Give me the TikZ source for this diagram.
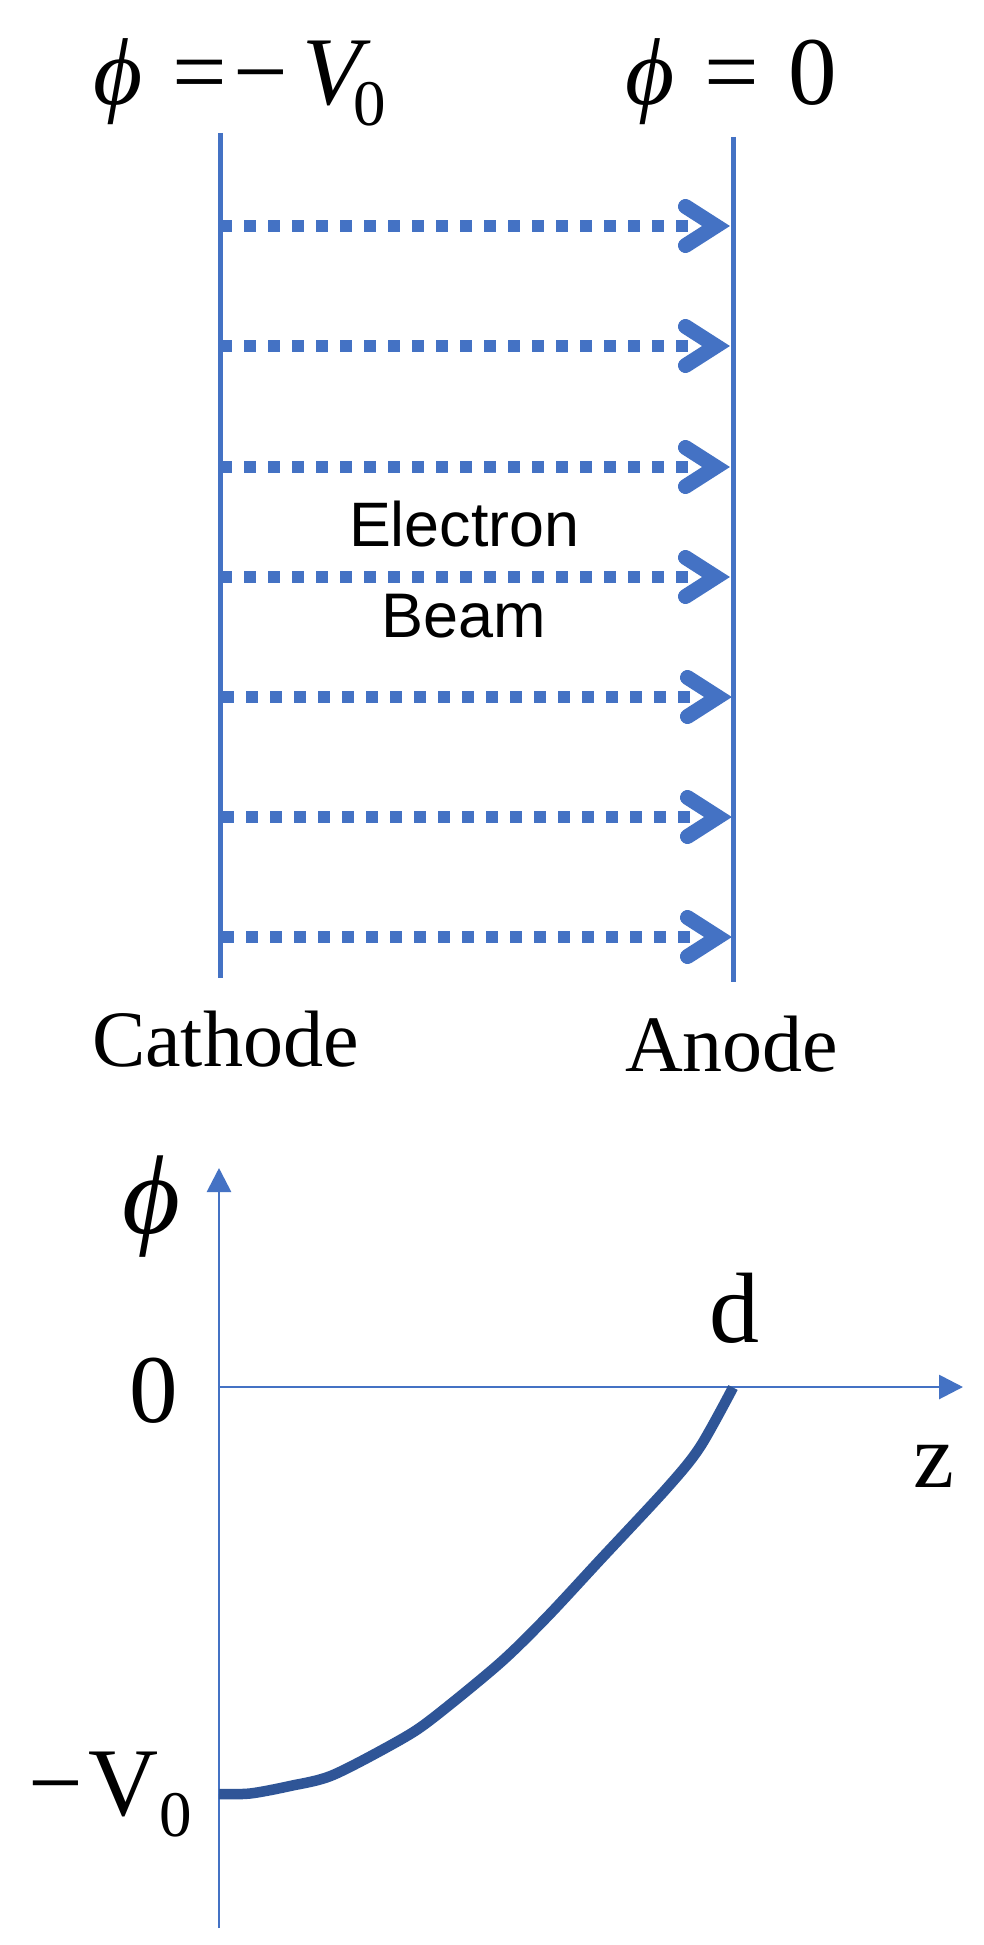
\documentclass[tikz,border=0pt]{standalone}
\usepackage{fontspec}
\setmainfont{Liberation Serif}
\newfontfamily\armfont{Liberation Sans}
\usetikzlibrary{arrows.meta,calc}
\definecolor{beamblue}{HTML}{4472C4}
\definecolor{curveblue}{HTML}{2F5597}
\newcommand{\gb}[2]{\makebox[#1pt][l]{#2}}
\newcommand{\sz}[1]{\fontsize{#1}{#1}\selectfont}
\newcommand{\phig}{{\itshape\symbol{"03D5}}}
\tikzset{
  lab/.style={anchor=base west,inner sep=0pt,outer sep=0pt,text=black},
  plate/.style={draw=beamblue,line width=5pt},
  beam/.style={draw=beamblue,line width=12pt,dash pattern=on 12.3pt off 11.7pt},
  barb/.style={draw=beamblue,line width=15pt,line cap=round,line join=miter,miter limit=10},
  axis/.style={draw=beamblue,line width=2.8pt,-{Triangle[length=24pt,width=24pt]}},
  pot/.style={draw=curveblue,line width=10.5pt,line join=round}
}
\begin{document}
\begin{tikzpicture}[x=1pt,y=-1pt]
\useasboundingbox (0,0) rectangle (984,1945);
\fill[white] (0,0) rectangle (984,1945);
% plates
\coordinate (ct) at (220,133);
\coordinate (cb) at (220,978);
\coordinate (at) at (733,137);
\coordinate (ab) at (733,982);
\draw[plate] (ct) -- (cb);
\draw[plate] (at) -- (ab);
% beam arrows
\foreach \i/\y/\d in {1/226/0,2/346/0,3/467/0,4/577/0,5/697/2,6/817/2,7/937/2}{
  \coordinate (s\i) at (220+\d,\y);
  \coordinate (e\i) at (688+\d,\y);
  \coordinate (v\i) at (716+\d,\y);
  \draw[beam] (s\i) -- (e\i);
  \draw[barb] ($(v\i)+(-30.5,-19.5)$) -- (v\i) -- ($(v\i)+(-30.5,19.5)$);
}
% top labels
\node[lab] (lphiL) at (93,105) {\sz{95}\gb{79}{\phig}\sz{97}\gb{62}{=}\gb{68}{−}\gb{51}{\itshape V}\raisebox{-21pt}{\sz{65}0}};
\node[lab] (lphiR) at (625,105) {\sz{95}\gb{79}{\phig}\sz{97}\gb{84}{=}0};
\node[lab] (lcath) at (92,1066) {\sz{80}Cathode};
\node[lab] (lanod) at (625,1071) {\sz{80}Anode};
\node[lab] (lelec) at (349,546) {\armfont\sz{62.8}Electron};
\node[lab] (lbeam) at (381,637) {\armfont\sz{63}Beam};
% plot
\coordinate (yb) at (219,1928);
\coordinate (yt) at (219,1168);
\coordinate (xl) at (219,1387);
\coordinate (xr) at (963,1387);
\draw[axis] (yb) -- (yt);
\draw[axis] (xl) -- (xr);
\draw[pot] plot[smooth,tension=0.5] coordinates {(219,1794) (250,1793.5) (290,1786) (333,1775) (400,1740) (433,1718) (500,1663) (547,1617) (600,1560) (667,1488) (700,1447) (733,1387.5)};
% plot labels
\node[lab] (lphi) at (122,1233) {\sz{112}\phig};
\node[lab] (ld) at (709,1342) {\sz{100}d};
\node[lab] (lzero) at (129,1422) {\sz{97}0};
\node[lab] (lz) at (913,1487) {\sz{92}z};
\node[lab] (lvo) at (28,1815) {\sz{97}\gb{61}{−}\gb{70}{V}\raisebox{-21pt}{\sz{65}0}};
\end{tikzpicture}
\end{document}
